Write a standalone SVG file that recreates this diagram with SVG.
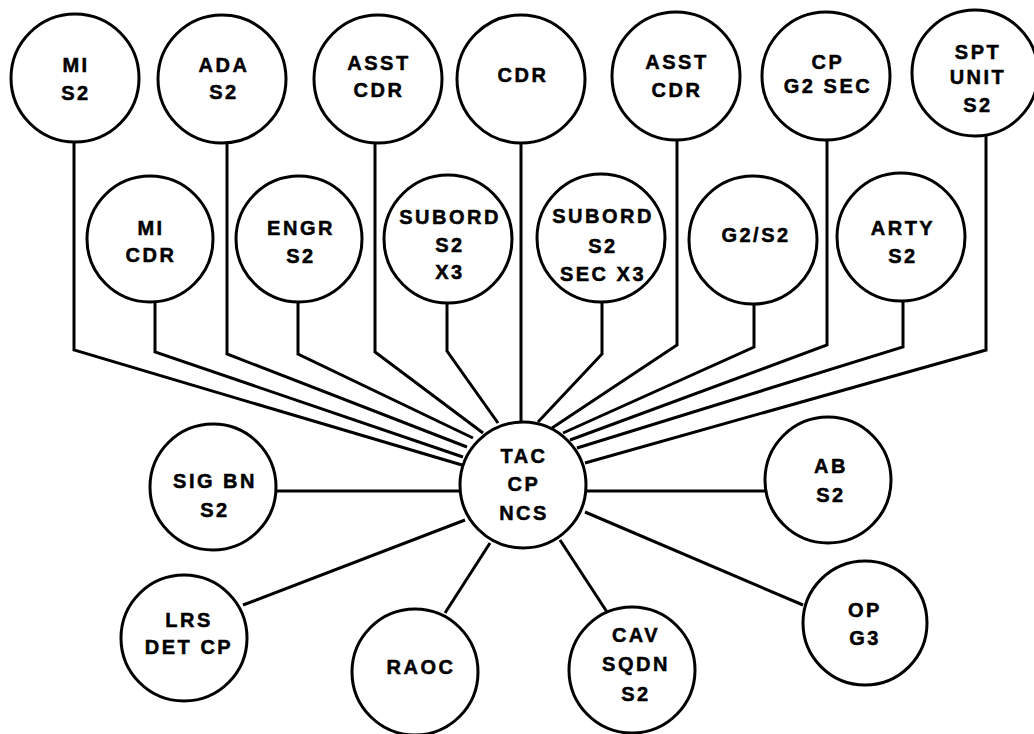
<svg xmlns="http://www.w3.org/2000/svg" width="1034" height="734" viewBox="0 0 1034 734">
<style>
.bg{fill:#fff}
.c{fill:#fff;stroke:#000;stroke-width:3}
.l{fill:none;stroke:#000;stroke-width:3;stroke-linejoin:miter}
.t{font-family:"Liberation Sans",Arial,sans-serif;font-weight:bold;font-size:20px;letter-spacing:2.5px;text-anchor:middle;fill:#000;stroke:#000;stroke-width:0.5}
</style>
<rect class="bg" x="0" y="0" width="1034" height="734"/>
<g id="connectors">
<polyline class="l" points="74,78 74,350 462,465"/>
<polyline class="l" points="155,239 155,352 463,457"/>
<polyline class="l" points="227,79 227,354 467,447"/>
<polyline class="l" points="298,239 298,354 473,438"/>
<polyline class="l" points="375,79 375,352 483,433"/>
<polyline class="l" points="447,239 447,351 498,423"/>
<polyline class="l" points="521,79 521,422"/>
<polyline class="l" points="602,238 602,354 538,422"/>
<polyline class="l" points="677,76 677,345 552,428"/>
<polyline class="l" points="754,240 754,347 563,433"/>
<polyline class="l" points="827,76 827,345 570,440"/>
<polyline class="l" points="903,237 903,347 577,448"/>
<polyline class="l" points="986,73 986,350 585,463"/>
<line class="l" x1="277" y1="491" x2="459" y2="491"/>
<line class="l" x1="587" y1="491" x2="765" y2="491"/>
<line class="l" x1="243" y1="605" x2="465" y2="520"/>
<line class="l" x1="445" y1="613" x2="490" y2="543"/>
<line class="l" x1="560" y1="540" x2="607" y2="612"/>
<line class="l" x1="585" y1="512" x2="803" y2="605"/>
</g>
<g id="n-mi-s2"><circle class="c" cx="75" cy="78" r="64"/><text class="t" x="76" y="72">MI</text><text class="t" x="76" y="100">S2</text></g>
<g id="n-ada-s2"><circle class="c" cx="222" cy="79" r="64"/><text class="t" x="224" y="72">ADA</text><text class="t" x="224" y="99">S2</text></g>
<g id="n-asst-cdr-1"><circle class="c" cx="378" cy="79" r="64"/><text class="t" x="379" y="70">ASST</text><text class="t" x="379" y="97">CDR</text></g>
<g id="n-cdr"><circle class="c" cx="521" cy="79" r="64"/><text class="t" x="523" y="82">CDR</text></g>
<g id="n-asst-cdr-2"><circle class="c" cx="676" cy="76" r="64"/><text class="t" x="677" y="69">ASST</text><text class="t" x="677" y="97">CDR</text></g>
<g id="n-cp-g2-sec"><circle class="c" cx="826" cy="76" r="64"/><text class="t" x="828" y="69">CP</text><text class="t" x="828" y="93">G2 SEC</text></g>
<g id="n-spt-unit-s2"><circle class="c" cx="975" cy="73" r="63"/><text class="t" x="978" y="59">SPT</text><text class="t" x="978" y="84">UNIT</text><text class="t" x="978" y="112">S2</text></g>
<g id="n-mi-cdr"><circle class="c" cx="150" cy="239" r="63"/><text class="t" x="151" y="235">MI</text><text class="t" x="151" y="262">CDR</text></g>
<g id="n-engr-s2"><circle class="c" cx="299" cy="239" r="63"/><text class="t" x="301" y="235">ENGR</text><text class="t" x="301" y="263">S2</text></g>
<g id="n-subord-s2-x3"><circle class="c" cx="448" cy="239" r="64"/><text class="t" x="450" y="224">SUBORD</text><text class="t" x="450" y="252">S2</text><text class="t" x="450" y="279">X3</text></g>
<g id="n-subord-s2-sec-x3"><circle class="c" cx="601" cy="238" r="64"/><text class="t" x="603" y="223">SUBORD</text><text class="t" x="603" y="253">S2</text><text class="t" x="603" y="281">SEC X3</text></g>
<g id="n-g2-s2"><circle class="c" cx="753" cy="240" r="64"/><text class="t" x="756" y="242">G2/S2</text></g>
<g id="n-arty-s2"><circle class="c" cx="901" cy="237" r="64"/><text class="t" x="903" y="235">ARTY</text><text class="t" x="903" y="263">S2</text></g>
<g id="n-tac-cp-ncs"><circle class="c" cx="523" cy="485" r="63"/><text class="t" x="524" y="463">TAC</text><text class="t" x="524" y="491">CP</text><text class="t" x="524" y="520">NCS</text></g>
<g id="n-sig-bn-s2"><circle class="c" cx="213" cy="487" r="63"/><text class="t" x="215" y="488">SIG BN</text><text class="t" x="215" y="517">S2</text></g>
<g id="n-ab-s2"><circle class="c" cx="828" cy="480" r="63"/><text class="t" x="831" y="473">AB</text><text class="t" x="831" y="502">S2</text></g>
<g id="n-lrs-det-cp"><circle class="c" cx="184" cy="638" r="63"/><text class="t" x="189" y="627">LRS</text><text class="t" x="189" y="654">DET CP</text></g>
<g id="n-raoc"><circle class="c" cx="415" cy="672" r="63"/><text class="t" x="421" y="674">RAOC</text></g>
<g id="n-cav-sqdn-s2"><circle class="c" cx="632" cy="670" r="63"/><text class="t" x="636" y="642">CAV</text><text class="t" x="636" y="671">SQDN</text><text class="t" x="636" y="701">S2</text></g>
<g id="n-op-g3"><circle class="c" cx="865" cy="623" r="62"/><text class="t" x="865" y="617">OP</text><text class="t" x="865" y="645">G3</text></g>
</svg>
